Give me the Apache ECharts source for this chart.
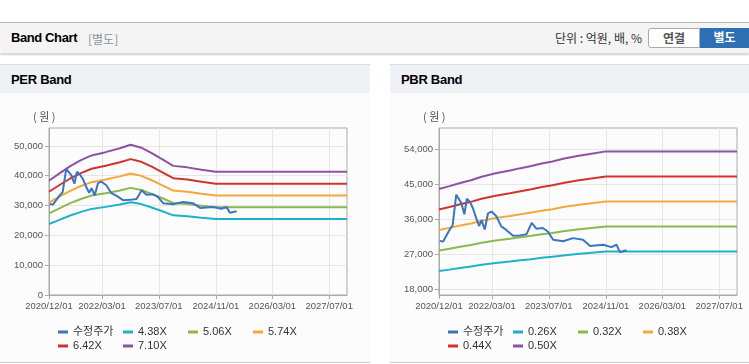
<!DOCTYPE html>
<html>
<head>
<meta charset="utf-8">
<script src="https://cdn.jsdelivr.net/npm/echarts@6/dist/echarts.min.js"></script>
<style>
  body { margin:0; width:749px; height:364px; overflow:hidden; background:#fff;
         font-family:"Liberation Sans","Noto Sans CJK KR",sans-serif; position:relative; }
  .top { position:absolute; left:0; top:22px; width:749px; height:30px; background:#f4f4f4;
         border-top:1px solid #b9b9b9; box-shadow:0 2px 2px rgba(0,0,0,0.18); }
  .top .ttl { position:absolute; left:11px; top:7px; font-size:13px; font-weight:bold; color:#000; letter-spacing:-0.4px; }
  .top .sub { position:absolute; left:88px; top:7px; font-size:12px; color:#8a929c; font-family:"Noto Sans CJK KR"; line-height:17px; }
  .top .unit { position:absolute; right:107px; top:6px; font-size:12px; color:#333; font-family:"Noto Sans CJK KR"; line-height:18px; }
  .btn { position:absolute; top:5px; height:18px; line-height:18px; font-size:12px; font-weight:bold; text-align:center;
         font-family:"Noto Sans CJK KR"; }
  .b1 { left:648px; width:50px; background:#fff; color:#555; border:1px solid #aaa; border-radius:3px 0 0 3px; }
  .b2 { left:700px; width:49px; height:20px; background:#2f6fb3; color:#fff; }
  .panel { position:absolute; top:64px; height:297px; background:#fcfcfc;
           border-top:1px solid #dcdcdc; border-bottom:1px solid #cfcfcf; }
  .panel .hd { height:28px; background:#eef2f7; font-size:13px; font-weight:bold; color:#000;
               line-height:30px; padding-left:11px; letter-spacing:-0.3px; }
  .chart { position:absolute; top:93px; width:370px; height:269px; }
</style>
</head>
<body>
<div class="top">
  <span class="ttl">Band Chart</span>
  <span class="sub">[별도]</span>
  <span class="unit">단위 : 억원, 배, %</span>
  <div class="btn b1">연결</div>
  <div class="btn b2">별도</div>
</div>
<div class="panel" style="left:0;width:370px;"><div class="hd">PER Band</div></div>
<div class="panel" style="left:390px;width:359px;"><div class="hd">PBR Band</div></div>
<div id="per" class="chart" style="left:0;"></div>
<div id="pbr" class="chart" style="left:390px;"></div>
<script>
// x축 눈금
var xTickLabels = ['2020/12/01','2022/03/01','2023/07/01','2024/11/01','2026/03/01','2027/07/01'];
var xMin = '2020/12/01', xMax = '2027/12/01';

// 수정주가
var priceDates = ['2020-12-07','2021-01-04','2021-03-01','2021-03-28','2021-04-28','2021-06-10','2021-07-07','2021-07-28',
  '2021-08-22','2021-09-19','2021-10-16','2021-11-10','2021-12-01','2021-12-28','2022-01-25','2022-02-25','2022-04-07',
  '2022-05-19','2022-07-01','2022-08-28','2022-10-25','2022-12-22','2023-02-04','2023-03-16','2023-05-10','2023-06-22',
  '2023-08-07','2023-11-01','2024-01-25','2024-04-19','2024-06-19','2024-10-10','2024-12-19','2025-02-01','2025-03-01','2025-04-28'];
var priceValues = [30500,30300,33300,34500,42300,40200,37300,41300,40500,38800,36300,34300,35800,33400,37500,38000,36800,
  34200,33300,31800,31900,32200,35100,33600,33800,32900,30800,30400,31200,30800,29200,29500,28900,29500,27600,28100];

// 밴드 기준일
var bandDates = ['2020-12-01','2021-03-01','2021-06-01','2021-09-01','2021-12-01','2022-04-01','2022-08-01','2022-11-01',
  '2023-02-01','2023-05-01','2023-08-01','2023-11-01','2024-03-01','2024-07-01','2024-11-01','2027-12-01'];

// PER 밴드
var perTicks = [0,10000,20000,30000,40000,50000];
var per438 = [23800,25170,26650,27880,28870,29550,30350,31090,30480,29360,28070,26710,26400,25910,25480,25480];
var per506 = [27400,29080,30790,32210,33350,34140,35070,35920,35210,33930,32430,30860,30500,29930,29430,29430];
var per574 = [30970,32990,34930,36540,37840,38730,39780,40750,39940,38480,36790,35010,34600,33960,33390,33390];
var per642 = [34630,36890,39060,40870,42320,43310,44490,45570,44670,43040,41140,39150,38700,37980,37340,37340];
var per710 = [38300,40800,43200,45200,46800,47900,49200,50400,49400,47600,45500,43300,42800,42000,41300,41300];

// PBR 밴드
var pbrTicks = [18000,27000,36000,45000,54000];
var pbr026 = [22760,23140,23560,23920,24390,24860,25220,25530,25820,26160,26420,26780,27140,27460,27760,27760];
var pbr032 = [28010,28480,28990,29440,30020,30590,31040,31420,31780,32190,32510,32960,33410,33790,34170,34170];
var pbr038 = [33270,33820,34430,34960,35640,36330,36860,37320,37730,38230,38610,39140,39670,40130,40580,40580];
var pbr044 = [38520,39160,39860,40480,41270,42060,42680,43210,43690,44260,44700,45320,45940,46460,46980,46980];
var pbr050 = [43770,44500,45300,46000,46900,47800,48500,49100,49650,50300,50800,51500,52200,52800,53390,53390];

var colors = ['#3b74c2','#1fb1c9','#8cb84e','#f2a83a','#d2332e','#8e52a1'];

function ts(s){ var p = s.split(/[-\/]/); return new Date(+p[0], +p[1]-1, +p[2]).getTime(); }
var xTickValues = xTickLabels.map(ts);

function pairs(dates, vals){
  var out = [];
  for (var i=0;i<dates.length;i++) out.push([ts(dates[i]), vals[i]]);
  return out;
}

function setChart(id, names, bands, ticks, yMin, yMax){
  var chart = echarts.init(document.getElementById(id));
  var series = [{ name:'수정주가', data:pairs(priceDates, priceValues), z:3 }];
  for (var i=0;i<bands.length;i++) series.push({ name:names[i], data:pairs(bandDates, bands[i]), z:2 });
  series.forEach(function(s, i){
    s.type = 'line'; s.symbol = 'none'; s.color = colors[i];
    s.lineStyle = { width:2, color:colors[i] };
  });
  chart.setOption({
    animation:false,
    grid:{ left:49, top:35, width:298, height:167, show:true, borderColor:'#aaa', borderWidth:1 },
    graphic:[{ type:'text', left:33, top:18, style:{ text:'( 원 )', fill:'#555', font:'11px "Noto Sans CJK KR"' } }],
    xAxis:{
      type:'value', min:ts(xMin), max:ts(xMax),
      axisLine:{ lineStyle:{ color:'#aaa' } },
      axisTick:{ show:true, length:4, lineStyle:{ color:'#aaa' }, customValues:xTickValues },
      axisLabel:{ customValues:xTickValues, color:'#555', fontSize:9.5, margin:6, fontFamily:'Liberation Sans',
        formatter:function(v){ var k = xTickValues.indexOf(v); return k < 0 ? '' : xTickLabels[k]; } },
      splitLine:{ show:true, lineStyle:{ color:'#e6e6e6' } }
    },
    yAxis:{
      type:'value', min:yMin, max:yMax,
      axisLine:{ show:true, lineStyle:{ color:'#aaa' } },
      axisTick:{ show:true, length:4, lineStyle:{ color:'#aaa' }, customValues:ticks },
      axisLabel:{ customValues:ticks, color:'#555', fontSize:9.5, margin:6, fontFamily:'Liberation Sans',
        formatter:function(v){ return v.toLocaleString('en-US'); } },
      splitLine:{ show:true, lineStyle:{ color:'#e6e6e6' } }
    },
    legend:{
      left:53, top:227, width:270, itemGap:0, itemWidth:10, itemHeight:3, icon:'rect',
      textStyle:{ width:50, fontSize:11, color:'#333', lineHeight:14, fontFamily:'Liberation Sans, Noto Sans CJK KR' },
      data:series.map(function(s){ return s.name; })
    },
    series:series
  });
}

setChart('per', ['4.38X','5.06X','5.74X','6.42X','7.10X'], [per438,per506,per574,per642,per710], perTicks, 0, 56000);
setChart('pbr', ['0.26X','0.32X','0.38X','0.44X','0.50X'], [pbr026,pbr032,pbr038,pbr044,pbr050], pbrTicks, 16650, 59370);
</script>
</body>
</html>
